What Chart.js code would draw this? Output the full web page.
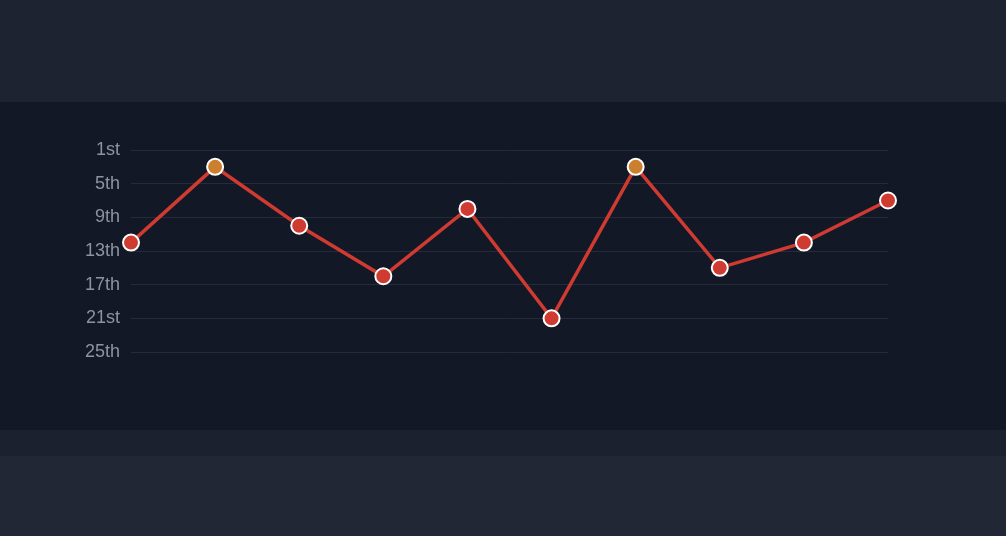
<!DOCTYPE html>
<html>
<head>
<meta charset="utf-8">
<script src="https://cdn.jsdelivr.net/npm/chart.js@4"></script>
<style>
  html, body { margin: 0; padding: 0; }
  body { width: 1006px; height: 536px; background: #212735; overflow: hidden; font-family: "Liberation Sans", Arial, sans-serif; }
  #top { height: 102px; background: #1e2331; }
  #panel { height: 328px; background: #121826; position: relative; }
  #strip { height: 26px; background: #1c2130; }
  canvas { display: block; }
</style>
</head>
<body>
<div id="top"></div>
<div id="panel"><canvas id="rankChart" width="1006" height="328"></canvas></div>
<div id="strip"></div>
<script>
// finishing positions per round (lower is better)
const rounds = ['R1', 'R2', 'R3', 'R4', 'R5', 'R6', 'R7', 'R8', 'R9', 'R10'];
const positions = [12, 3, 10, 16, 8, 21, 3, 15, 12, 7];
const rankTicks = ['1st', '5th', '9th', '13th', '17th', '21st', '25th'];

const lineRed = '#cf3a31';
const podium = '#cc7f2f';

function ordinal(n) {
    const idx = (n - 1) / 4;
    return rankTicks[idx] !== undefined ? rankTicks[idx] : '';
}

const ctx = document.getElementById('rankChart').getContext('2d');
const chart = new Chart(ctx, {
    type: 'line',
    data: {
        labels: rounds,
        datasets: [{
            label: 'Position',
            data: positions,
            borderColor: lineRed,
            borderWidth: 3.5,
            tension: 0,
            fill: false,
            pointRadius: 8,
            pointHoverRadius: 8,
            pointBorderWidth: 2,
            pointBorderColor: '#ffffff',
            pointBackgroundColor: positions.map(p => p <= 3 ? podium : lineRed)
        }]
    },
    options: {
        responsive: false,
        animation: false,
        layout: { padding: { left: 0, right: 118, top: 48, bottom: 78 } },
        plugins: { legend: { display: false }, tooltip: { enabled: false } },
        scales: {
            x: { display: false, offset: false },
            y: {
                reverse: true,
                min: 1,
                max: 25,
                border: { display: false },
                grid: { color: '#252b3a', lineWidth: 1, drawTicks: false },
                afterFit: s => { s.width = 131; },
                ticks: {
                    stepSize: 4,
                    padding: 11,
                    color: '#8e93a3',
                    font: { size: 18, family: '"Liberation Sans", Arial, sans-serif' },
                    callback: v => ordinal(v)
                }
            }
        }
    }
});
</script>
</body>
</html>
